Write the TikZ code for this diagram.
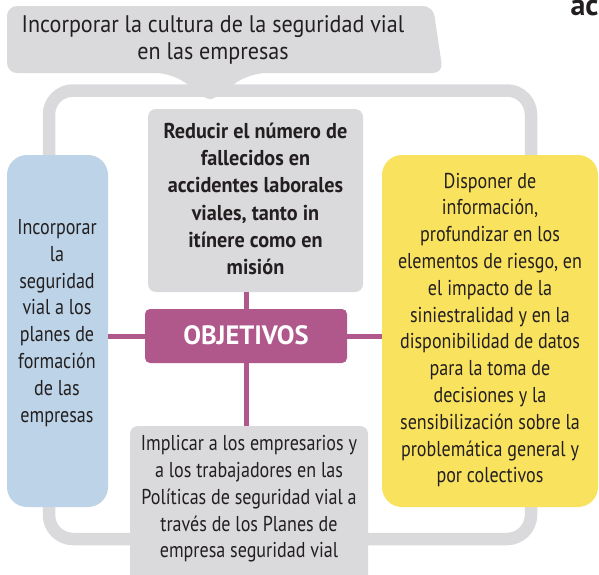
\documentclass[tikz,border=0pt]{standalone}
\usepackage{fontspec}
\setmainfont{PT Sans}[FakeStretch=0.84]
\newfontfamily\calloutfont{PT Sans}[FakeStretch=0.92]
\newfontfamily\boldfont{PT Sans}[FakeStretch=0.94]
\newfontfamily\widefont{PT Sans}
\usetikzlibrary{positioning}

\definecolor{boxgray}{RGB}{218,217,219}
\definecolor{boxblue}{RGB}{188,211,232}
\definecolor{boxyellow}{RGB}{249,226,94}
\definecolor{objmagenta}{RGB}{176,88,140}
\definecolor{inkdark}{RGB}{35,31,32}

\begin{document}
\begin{tikzpicture}[x=1pt,y=-1pt,
	box/.style={inner sep=0pt, rounded corners=#1},
	box/.default=8pt,
	txt/.style={align=center, text=inkdark, font=\fontsize{21.5}{26.8}\selectfont},
	link/.style={objmagenta, line width=5pt}]
	\useasboundingbox (0,0) rectangle (599,574);
	% outer frame
	\draw[boxgray, line width=12.5pt, rounded corners=24pt] (49,90.5) rectangle (531,539);
	% callout on top
	\fill[boxgray, rounded corners=10pt] (7,6) -- (433,6) -- (443,73)
		[rounded corners=16pt] -- (250,73) [rounded corners=5pt] -- (210,101)
		[rounded corners=16pt] -- (172,73) [rounded corners=10pt] -- (7,73) -- cycle;
	\node[txt, font=\calloutfont\fontsize{24}{27}\selectfont] (goal) at (213,40)
		{Incorporar la cultura de la seguridad vial\\en las empresas};
	% boxes
	\node[box=20pt, fill=boxblue, minimum width=101pt, minimum height=352pt] (blue) at (57.5,331) {};
	\node[box=20pt, fill=boxyellow, minimum width=216pt, minimum height=352pt] (yellow) at (490,331) {};
	\node[box, fill=boxgray, minimum width=215pt, minimum height=183pt] (gtop) at (255.5,200.5) {};
	\node[box, fill=boxgray, minimum width=238pt, minimum height=160pt] (gbot) at (249,506) {};
	% connectors
	\node[box=5pt, fill=objmagenta, minimum width=202pt, minimum height=54pt] (obj) at (246,336) {};
	\draw[link] (obj -| blue.east) -- (obj.west);
	\draw[link] (obj.east) -- (obj -| yellow.west);
	\draw[link] (obj |- gtop.south) -- (obj.north);
	\draw[link] (obj.south) -- (obj |- gbot.north);
	% texts
	\node[text=white, font=\widefont\fontsize{26.5}{30}\bfseries\selectfont] (objtxt) at (246,335) {OBJETIVOS};
	\node[txt] (bluetxt) at (57,323)
		{Incorporar\\la\\seguridad\\vial a los\\planes de\\formación\\de las\\empresas};
	\node[txt, font=\boldfont\fontsize{21.5}{27.2}\bfseries\selectfont] (gtoptxt) at (255.5,199)
		{Reducir el número de\\fallecidos en\\accidentes laborales\\viales, tanto in\\itínere como en\\misión};
	\node[txt] (yellowtxt) at (490,330)
		{Disponer de\\información,\\profundizar en los\\elementos de riesgo, en\\el impacto de la\\siniestralidad y en la\\disponibilidad de datos\\para la toma de\\decisiones y la\\sensibilización sobre la\\problemática general y\\por colectivos};
	\node[txt] (gbottxt) at (249,499)
		{Implicar a los empresarios y\\a los trabajadores en las\\Políticas de seguridad vial a\\través de los Planes de\\empresa seguridad vial};
	\node[anchor=base west, text=inkdark, font=\widefont\fontsize{30}{30}\bfseries\selectfont] (head) at (567,15) {ac};
\end{tikzpicture}
\end{document}
